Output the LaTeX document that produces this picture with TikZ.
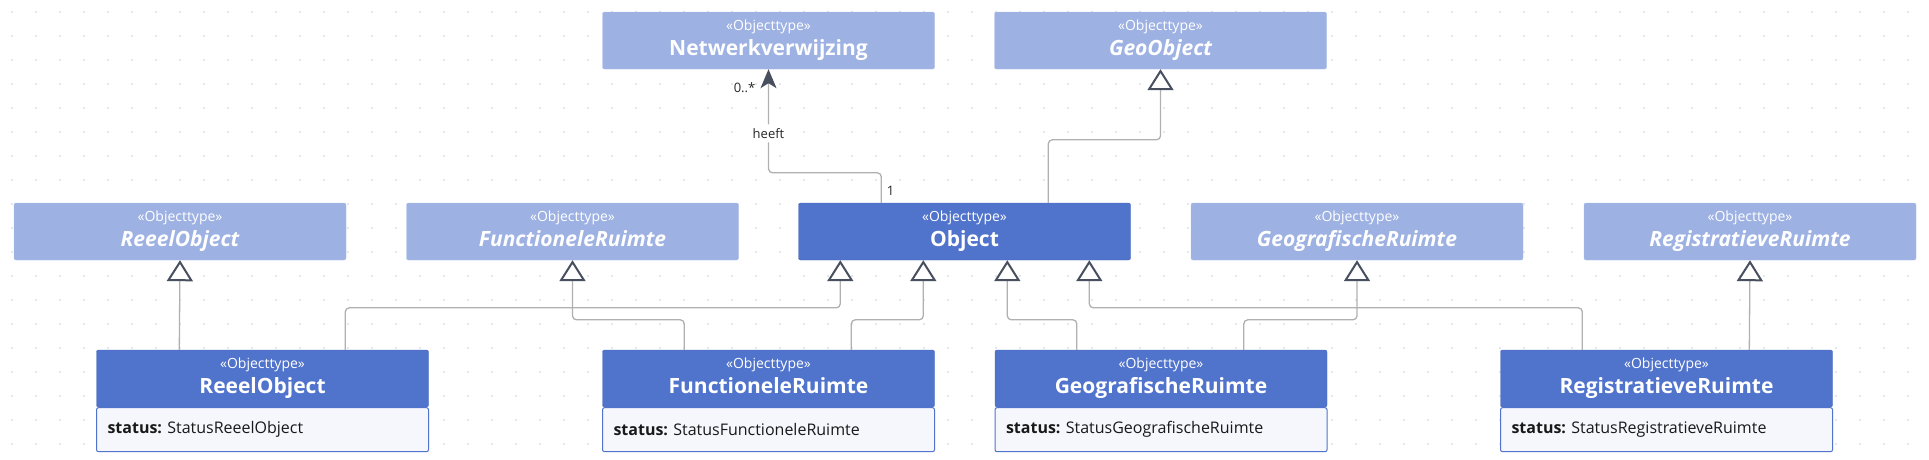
\documentclass[tikz,border=0pt]{standalone}
\usepackage{fontspec}
\setmainfont{Open Sans}
\usetikzlibrary{arrows.meta,positioning}
\definecolor{umldark}{RGB}{80,115,204}
\definecolor{umllight}{RGB}{157,177,227}
\definecolor{umlattr}{RGB}{245,247,252}
\definecolor{tipgray}{RGB}{72,79,94}
\definecolor{linegray}{RGB}{176,176,176}
\definecolor{dotgray}{RGB}{200,204,220}
\newcommand{\stereo}{{\normalfont\fontsize{14}{14}\selectfont «Objecttype»}}

\tikzset{
  classbox/.style={rectangle, rounded corners=2pt, minimum width=332pt, minimum height=57pt,
    inner sep=0pt, align=center, text=white, font=\fontsize{21}{25}\selectfont\bfseries},
  concrete/.style={classbox, fill=umldark, draw=umldark!92!black},
  external/.style={classbox, fill=umllight, draw=umllight!85!white},
  abstract/.style={external, font=\fontsize{21}{25}\selectfont\bfseries\itshape},
  attrbox/.style={rectangle, rounded corners=2pt, fill=umlattr, draw=umldark, line width=1pt,
    minimum height=44pt, text width=310pt, inner xsep=11pt, inner ysep=0pt, align=left,
    font=\fontsize{16}{18}\selectfont, text=black!90},
  lbl/.style={inner sep=0pt, font=\fontsize{13}{15}\selectfont, text=black!85},
  gen/.style={draw=linegray, line width=1.3pt, rounded corners=4pt,
    -{Triangle[open, width=26pt, length=21pt, line width=2pt, color=tipgray, fill=white]}},
  assoc/.style={draw=linegray, line width=1.3pt, rounded corners=4pt,
    -{Stealth[length=19pt, width=16pt, inset=5pt, color=tipgray]}}
}

\begin{document}
\begin{tikzpicture}[x=1pt, y=-1pt]
\useasboundingbox (0,0) rectangle (1929,459);
% grid of dots
\foreach \i in {0,...,79}
  \foreach \j in {0,...,18}
    \fill[dotgray] (12+24*\i, 12+24*\j) circle (0.9);

% top row
\node[external] (netwerk) at (768.5,40.5) {\stereo\\Netwerkverwijzing\vphantom{gj}};
\node[abstract] (geoobj) at (1160.5,40.5) {\stereo\\GeoObject\vphantom{gj}};

% middle row
\node[abstract] (reeelmid) at (180,231.5) {\stereo\\ReeelObject\vphantom{gj}};
\node[abstract] (funcmid) at (572.5,231.5) {\stereo\\FunctioneleRuimte\vphantom{gj}};
\node[concrete] (object) at (964.5,231.5) {\stereo\\Object\vphantom{gj}};
\node[abstract] (geomid) at (1357,231.5) {\stereo\\GeografischeRuimte\vphantom{gj}};
\node[abstract] (regmid) at (1750,231.5) {\stereo\\RegistratieveRuimte\vphantom{gj}};

% bottom row
\node[concrete] (reeel) at (262.5,378.5) {\stereo\\ReeelObject\vphantom{gj}};
\node[attrbox, below=0pt of reeel] (reeelattr) {\textbf{status:}\ StatusReeelObject};
\node[concrete] (func) at (768.5,378.5) {\stereo\\FunctioneleRuimte\vphantom{gj}};
\node[attrbox, below=0pt of func] (funcattr) {\textbf{status:}\ StatusFunctioneleRuimte};
\node[concrete] (geo) at (1161,378.5) {\stereo\\GeografischeRuimte\vphantom{gj}};
\node[attrbox, below=0pt of geo] (geoattr) {\textbf{status:}\ StatusGeografischeRuimte};
\node[concrete] (reg) at (1666.5,378.5) {\stereo\\RegistratieveRuimte\vphantom{gj}};
\node[attrbox, below=0pt of reg] (regattr) {\textbf{status:}\ StatusRegistratieveRuimte};

% association
\draw[assoc] ([xshift=83pt]object.north west)
  node[lbl, anchor=south west, xshift=5pt, yshift=7pt] (one) {1}
  -- ++(0,-30) -| (netwerk.south)
  node[lbl, pos=0.69, fill=white, inner ysep=4pt] (heeft) {heeft};
\node[lbl, below left=13pt and 13pt of netwerk.south] (many) {0..*};

% generalisations
\draw[gen] ([xshift=250pt]object.north west) -- ++(0,-63) -| (geoobj.south);
\draw[gen] ([xshift=83pt]reeel.north west) -- (reeelmid.south);
\draw[gen] ([xshift=249pt]reeel.north west) -- ++(0,-42) -| ([xshift=42pt]object.south west);
\draw[gen] ([xshift=82pt]func.north west) -- ++(0,-30) -| (funcmid.south);
\draw[gen] ([xshift=249pt]func.north west) -- ++(0,-30) -| ([xshift=125pt]object.south west);
\draw[gen] ([xshift=82pt]geo.north west) -- ++(0,-30) -| ([xshift=209pt]object.south west);
\draw[gen] ([xshift=249pt]geo.north west) -- ++(0,-30) -| (geomid.south);
\draw[gen] ([xshift=82pt]reg.north west) -- ++(0,-42) -| ([xshift=291pt]object.south west);
\draw[gen] ([xshift=249pt]reg.north west) -- (regmid.south);
\end{tikzpicture}
\end{document}
